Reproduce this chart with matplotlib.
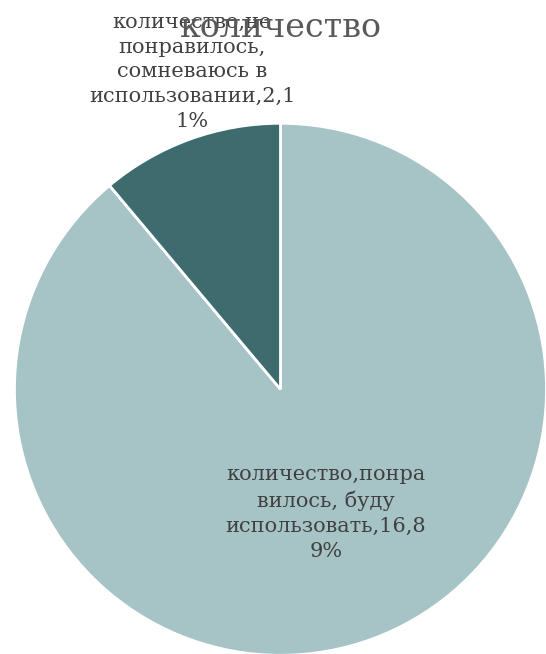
import matplotlib
matplotlib.use('Agg')
import matplotlib.pyplot as plt

series_name = 'количество'
categories = ['понравилось, буду использовать', 'не понравилось, сомневаюсь в использовании']
values = [16, 2]
colors = ['#a6c3c6', '#3e6b6e']
# labels as Excel wrapped them: series, category, value, percent
label_lines = [
    ['количество,понра', 'вилось, буду', 'использовать,16,8', '9%'],
    ['количество,не', 'понравилось,', 'сомневаюсь в', 'использовании,2,1', '1%'],
]

fig = plt.figure(figsize=(5.46, 6.54), dpi=100)
ax = fig.add_axes([0.0265, -0.002, 0.9744, 0.8135])
ax.pie(values, colors=colors, startangle=90, counterclock=False,
       wedgeprops=dict(edgecolor='white', linewidth=2))
ax.set_xlim(-1.0, 1.0)
ax.set_ylim(-1.0, 1.0)
ax.set_aspect('auto')
ax.axis('off')

txt_color = '#404040'
font = 'DejaVu Serif'
fig.text(0.597, 0.2156, '\n'.join(label_lines[0]), ha='center', va='center',
         fontsize=15, color=txt_color, family=font, linespacing=1.38)
fig.text(0.352, 0.89, '\n'.join(label_lines[1]), ha='center', va='center',
         fontsize=15, color=txt_color, family=font, linespacing=1.38)
fig.text(0.515, 0.957, series_name, ha='center', va='center',
         fontsize=24, color='#595959', family=font)

fig.savefig('out.png', dpi=100)
